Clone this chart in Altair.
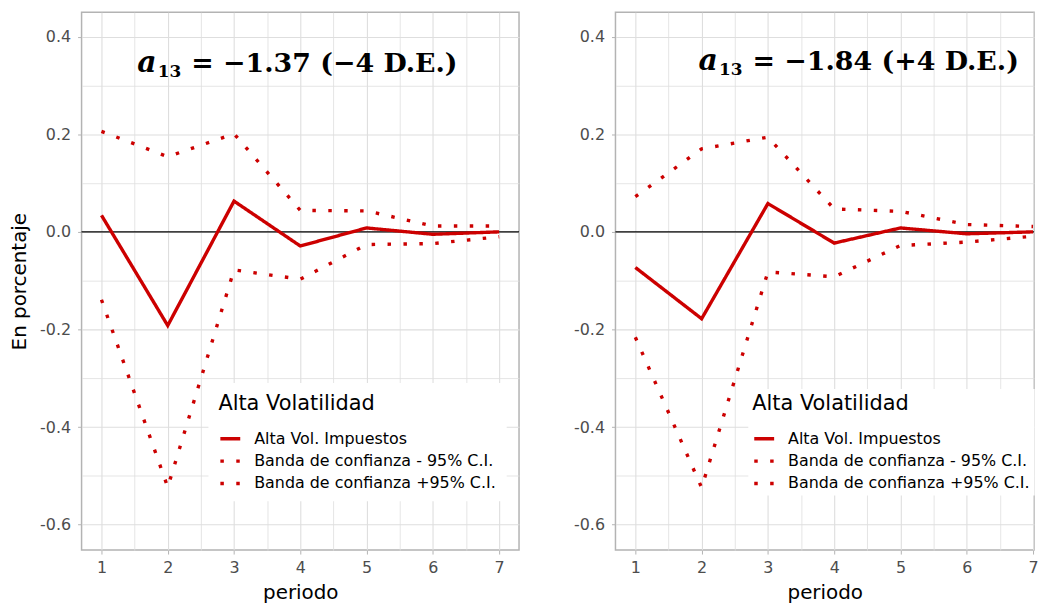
import altair as alt
import pandas as pd

# ---------------- data ----------------
periodo = [1, 2, 3, 4, 5, 6, 7]

# left panel  (a13 = -1.37, -4 D.E.)
irf_izq = [0.034, -0.192, 0.063, -0.029, 0.008, -0.005, 0.000]
inf_izq = [-0.139, -0.523, -0.078, -0.097, -0.026, -0.024, -0.010]
sup_izq = [0.206, 0.154, 0.201, 0.044, 0.043, 0.012, 0.012]

# right panel (a13 = -1.84, +4 D.E.)
irf_der = [-0.073, -0.178, 0.058, -0.023, 0.008, -0.004, 0.000]
inf_der = [-0.216, -0.524, -0.082, -0.092, -0.028, -0.021, -0.009]
sup_der = [0.072, 0.170, 0.194, 0.047, 0.042, 0.015, 0.011]

series = [
    "Alta Vol. Impuestos",
    "Banda de confianza - 95% C.I.",
    "Banda de confianza +95% C.I.",
]

titulo_izq = ["a", "13", "= −1.37 (−4 D.E.)"]
titulo_der = ["a", "13", "= −1.84 (+4 D.E.)"]
pos_titulo_izq = [2.355, 0.328]
pos_titulo_der = [2.768, 0.331]

y_ticks = [-0.6, -0.5, -0.4, -0.3, -0.2, -0.1, 0.0, 0.1, 0.2, 0.3, 0.4]
x_ticks = [1, 1.5, 2, 2.5, 3, 3.5, 4, 4.5, 5, 5.5, 6, 6.5, 7]

# ---------------- styling ----------------
ROJO = "#cc0000"
FONT = "DejaVu Sans"
SERIF = "DejaVu Serif"
GRID = "#dedede"
BORDE = "#b3b3b3"

X_MAJOR = "datum.value % 1 === 0"
Y_MAJOR = "abs(round(datum.value * 10)) % 2 === 0"


def datos(irf, inf, sup):
    rows = []
    for s, vals in zip(series, [irf, inf, sup]):
        for p, v in zip(periodo, vals):
            rows.append({"periodo": p, "valor": v, "serie": s})
    return pd.DataFrame(rows)


def eje_x():
    return alt.Axis(
        values=x_ticks,
        labelExpr=f"{X_MAJOR} ? format(datum.value, 'd') : ''",
        title="periodo", titleFont=FONT, titleFontSize=20, titleFontWeight="normal",
        titleColor="black", titlePadding=7,
        labelFont=FONT, labelFontSize=16, labelColor="#4d4d4d", labelPadding=6,
        labelFlush=False, labelOverlap=False,
        tickColor=BORDE, tickSize=4, tickWidth=1,
        tickOpacity={"condition": {"test": X_MAJOR, "value": 1}, "value": 0},
        grid=True, gridColor=GRID,
        gridWidth={"condition": {"test": X_MAJOR, "value": 1.1}, "value": 0.8},
        domain=False,
    )


def eje_y(titulo):
    kw = dict(
        values=y_ticks,
        labelExpr=f"{Y_MAJOR} ? replace(format(datum.value, '.1f'), '−', '-') : ''",
        labelFont=FONT, labelFontSize=16, labelColor="#4d4d4d", labelPadding=7,
        labelFlush=False, labelOverlap=False,
        tickColor=BORDE, tickSize=4, tickWidth=1,
        tickOpacity={"condition": {"test": Y_MAJOR, "value": 1}, "value": 0},
        grid=True, gridColor=GRID,
        gridWidth={"condition": {"test": Y_MAJOR, "value": 1.1}, "value": 0.8},
        domain=False,
    )
    if titulo:
        kw.update(title=titulo, titleFont=FONT, titleFontSize=20, titleFontWeight="normal",
                  titleColor="black", titlePadding=10.5)
    else:
        kw.update(title=None)
    return alt.Axis(**kw)


def leyenda(lx, ly, pad):
    return alt.Legend(
        orient="none", legendX=lx, legendY=ly,
        title="Alta Volatilidad", titleFont=FONT, titleFontSize=21,
        titleFontWeight="normal", titleColor="black", titlePadding=13,
        labelFont=FONT, labelFontSize=16, labelColor="black", labelLimit=600,
        symbolType="stroke", symbolSize=400, symbolStrokeWidth=3.4,
        labelOffset=12, rowPadding=2.5, padding=pad, fillColor="white",
    )


def panel(irf, inf, sup, partes, pos, y_title, width, x_max, pad):
    X = alt.X("periodo:Q", scale=alt.Scale(domain=[0.7, x_max], nice=False, zero=False), axis=eje_x())
    Y = alt.Y("valor:Q", scale=alt.Scale(domain=[-0.652, 0.45], nice=False, zero=False), axis=eje_y(y_title))
    ley = leyenda(137.6 - pad, 383 - pad, pad)

    cero = alt.Chart(pd.DataFrame({"valor": [0.0]})).mark_rule(color="black", strokeWidth=1.3).encode(y=Y)

    lineas = alt.Chart(datos(irf, inf, sup)).mark_line(strokeWidth=3.4, clip=True).encode(
        x=X, y=Y,
        color=alt.Color("serie:N", scale=alt.Scale(domain=series, range=[ROJO, ROJO, ROJO]), legend=ley),
        strokeDash=alt.StrokeDash("serie:N", scale=alt.Scale(domain=series, range=[[1, 0], [3.5, 12.5], [3.5, 12.5]]), legend=ley),
    )

    tdf = pd.DataFrame({"periodo": [pos[0]], "valor": [pos[1]]})
    base = alt.Chart(tdf)
    t_a = base.mark_text(text=partes[0], font=SERIF, fontSize=30, fontWeight="bold", fontStyle="italic",
                         align="right", baseline="alphabetic", dx=-35, color="black").encode(x=X, y=Y)
    t_sub = base.mark_text(text=partes[1], font=SERIF, fontSize=17, fontWeight="bold",
                           align="right", baseline="alphabetic", dx=-10, dy=5, color="black").encode(x=X, y=Y)
    t_rest = base.mark_text(text=partes[2], font=SERIF, fontSize=27, fontWeight="bold",
                            align="left", baseline="alphabetic", dx=0, color="black").encode(x=X, y=Y)

    return alt.layer(cero, lineas, t_a, t_sub, t_rest).properties(width=width, height=541)


izq = panel(irf_izq, inf_izq, sup_izq, titulo_izq, pos_titulo_izq, "En porcentaje", 440, 7.3, 10)
der = panel(irf_der, inf_der, sup_der, titulo_der, pos_titulo_der, None, 421, 7.015, 4)

chart = (
    alt.hconcat(izq, der, spacing=97, bounds="flush")
    .resolve_scale(color="independent", strokeDash="independent")
    .resolve_legend(color="independent", strokeDash="independent")
    .properties(padding={"left": 0, "top": 1.5, "right": 0, "bottom": 0}, background="white")
    .configure_view(stroke=BORDE, strokeWidth=1.5)
)

chart.save("out.html", embed_options={"renderer": "svg", "actions": False})
